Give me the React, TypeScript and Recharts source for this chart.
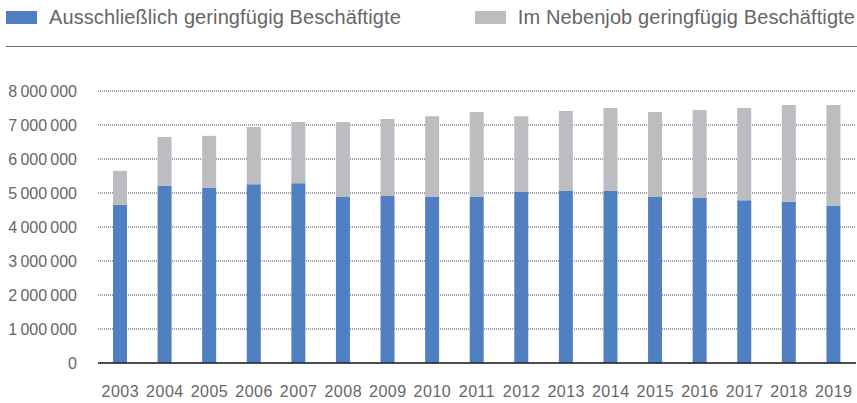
import React from "react";
import { BarChart, Bar, XAxis, YAxis, CartesianGrid } from "recharts";

const years = ["2003", "2004", "2005", "2006", "2007", "2008", "2009", "2010", "2011", "2012", "2013", "2014", "2015", "2016", "2017", "2018", "2019"];
const exclusive = [4650000, 5210000, 5150000, 5260000, 5290000, 4880000, 4910000, 4880000, 4880000, 5030000, 5060000, 5060000, 4880000, 4850000, 4790000, 4740000, 4620000];
const sideJob = [1000000, 1440000, 1530000, 1680000, 1800000, 2210000, 2270000, 2380000, 2500000, 2230000, 2350000, 2440000, 2500000, 2590000, 2710000, 2850000, 2970000];
const yTicks = [0, 1000000, 2000000, 3000000, 4000000, 5000000, 6000000, 7000000, 8000000];

const seriesNames = ["Ausschließlich geringfügig Beschäftigte", "Im Nebenjob geringfügig Beschäftigte"];
const BLUE = "#5080c1";
const GREY = "#bcbdc1";
const FONT = "'Liberation Sans', Arial, sans-serif";

const data = years.map((y, i) => ({ year: y, exclusive: exclusive[i], sideJob: sideJob[i] }));

const fmt = (v: number) => v.toString().replace(/\B(?=(\d{3})+(?!\d))/g, "\u2009");

const LegendItem = ({ color, label, pos }: { color: string; label: string; pos: React.CSSProperties }) => (
    <div style={{ position: "absolute", top: 3, height: 28, display: "flex", alignItems: "center", ...pos }}>
        <div style={{ width: 31, height: 13, background: color, marginRight: 12 }} />
        <span style={{ fontSize: 20, color: "#666", whiteSpace: "nowrap", letterSpacing: 0.1 }}>{label}</span>
    </div>
);

export default function App() {
    return (
        <div style={{ position: "absolute", left: 0, top: 0, width: 857, height: 403, background: "#fff", fontFamily: FONT }}>
            <LegendItem color={BLUE} label={seriesNames[0]} pos={{ left: 6 }} />
            <LegendItem color={GREY} label={seriesNames[1]} pos={{ right: 2 }} />
            <div style={{ position: "absolute", left: 6, top: 46, width: 851, height: 1, background: "#6f6f6f" }} />
            <div style={{ position: "absolute", left: 0, top: 0 }}>
                <BarChart width={857} height={403} data={data} margin={{ top: 91, right: 1, left: 0, bottom: 0 }}>
                    <CartesianGrid vertical={false} stroke="#444" strokeDasharray="1 1" />
                    <XAxis
                        dataKey="year"
                        height={40}
                        tickLine={false}
                        tickSize={0}
                        tickMargin={23}
                        axisLine={{ stroke: "#222", strokeWidth: 1.5 }}
                        tick={{ fill: "#666", fontSize: 16, fontFamily: FONT, letterSpacing: 0.5 }}
                        interval={0}
                    />
                    <YAxis
                        width={98}
                        domain={[0, 8000000]}
                        ticks={yTicks}
                        axisLine={false}
                        tickLine={false}
                        tickSize={0}
                        tickMargin={21}
                        tickFormatter={fmt}
                        tick={{ fill: "#666", fontSize: 16, fontFamily: FONT }}
                    />
                    <Bar dataKey="exclusive" stackId="a" fill={BLUE} barSize={14} isAnimationActive={false} />
                    <Bar dataKey="sideJob" stackId="a" fill={GREY} barSize={14} isAnimationActive={false} />
                </BarChart>
            </div>
        </div>
    );
}
